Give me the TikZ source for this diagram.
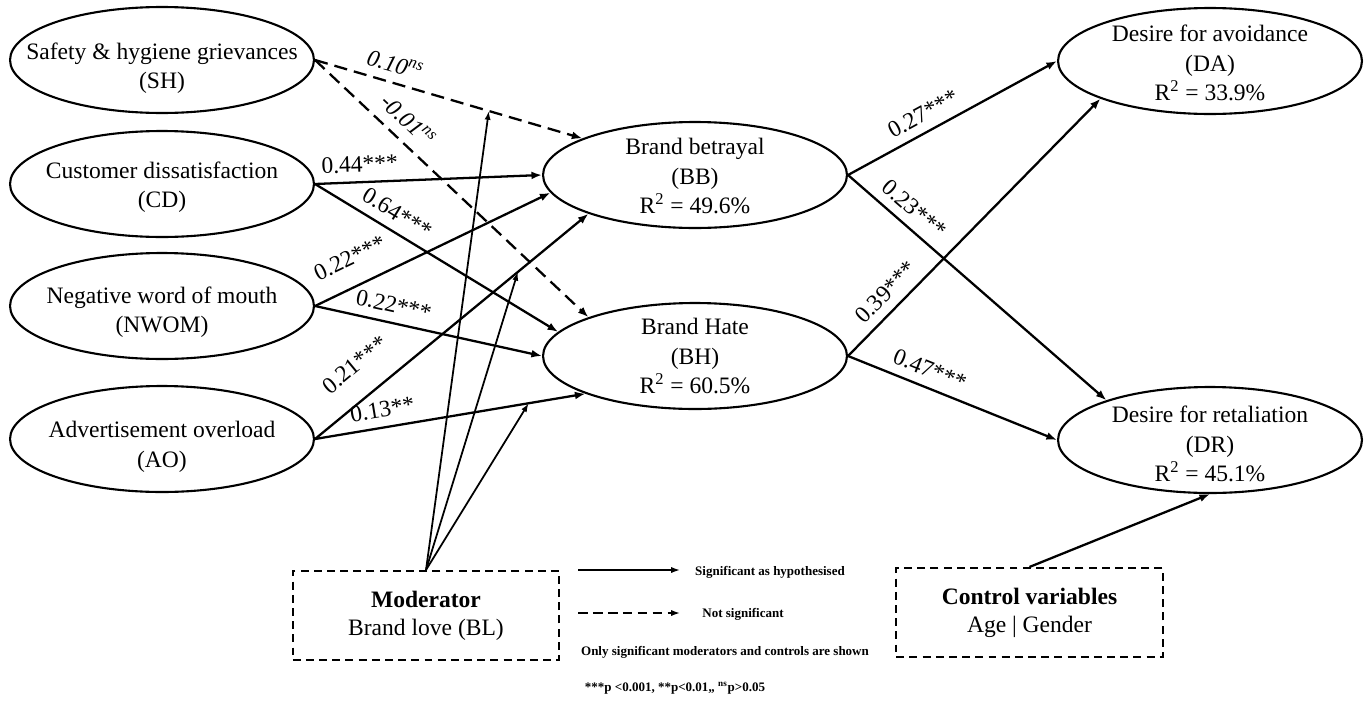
\documentclass[tikz,border=0pt]{standalone}
\usepackage{fontspec}
\setmainfont{Liberation Serif}
\usetikzlibrary{shapes.geometric,arrows.meta}
\begin{document}
\begin{tikzpicture}[x=0.02cm,y=-0.02cm,
  ell/.style={ellipse, draw, line width=1.2pt, minimum width=6.08cm, minimum height=2.12cm, inner sep=0pt},
  etxt/.style={align=center, inner sep=0pt, font=\fontsize{13.4}{16.8}\selectfont},
  dbox/.style={draw, dash pattern=on 4.5pt off 3pt, line width=1.2pt, align=center, inner sep=0pt,
    minimum width=5.33cm, minimum height=1.78cm, font=\fontsize{13.4}{16}\selectfont},
  arr/.style={line width=1.3pt, -{Latex[length=6pt,width=4.5pt]}},
  nsarr/.style={arr, dash pattern=on 7.5pt off 4pt},
  modarr/.style={line width=1pt, -{Latex[length=5pt,width=3.5pt]}},
  lbl/.style={sloped, above=4pt, inner sep=1pt, font=\fontsize{13.4}{16}\selectfont},
  leg/.style={font=\fontsize{7.4}{9}\selectfont\bfseries, inner sep=0pt},
  legarr/.style={line width=0.9pt, -{Latex[length=5pt,width=3.5pt]}}
]
\useasboundingbox (0,0) rectangle (1365,700);

% exogenous constructs
\node[ell] (SH) at (162,60) {};
\node[etxt] (SHt) at (162,68) {Safety \& hygiene grievances\\(SH)};
\node[ell] (CD) at (162,184) {};
\node[etxt] (CDt) at (162,187) {Customer dissatisfaction\\(CD)};
\node[ell] (NWOM) at (162,306) {};
\node[etxt] (NWOMt) at (162,312) {Negative word of mouth\\(NWOM)};
\node[ell] (AO) at (162,439) {};
\node[etxt] (AOt) at (162,447) {Advertisement overload\\(AO)};

% mediators
\node[ell] (BB) at (695,175) {};
\node[etxt] (BBt) at (695,176) {Brand betrayal\\(BB)\\R\textsuperscript{2} = 49.6\%};
\node[ell] (BH) at (695,356) {};
\node[etxt] (BHt) at (695,356) {Brand Hate\\(BH)\\R\textsuperscript{2} = 60.5\%};

% outcomes
\node[ell] (DA) at (1210,61) {};
\node[etxt] (DAt) at (1210,63) {Desire for avoidance\\(DA)\\R\textsuperscript{2} = 33.9\%};
\node[ell] (DR) at (1210,440) {};
\node[etxt] (DRt) at (1210,444) {Desire for retaliation\\(DR)\\R\textsuperscript{2} = 45.1\%};

% moderator and controls
\node[dbox] (BL) at (426,615.5) {\textbf{Moderator}\\Brand love (BL)};
\node[dbox] (CV) at (1029.5,612.5) {\textbf{Control variables}\\Age | Gender};

% paths to BB / BH
\draw[nsarr] (SH.east) -- node[lbl, pos=0.28] {\itshape 0.10\textsuperscript{ns}} (BB.162.35);
\draw[nsarr] (SH.east) -- node[lbl, pos=0.29, above=1pt] {\itshape -0.01\textsuperscript{ns}} (BH.160.9);
\draw[arr] (CD.east) -- node[lbl, pos=0.2] {0.44***} (BB.west);
\draw[arr] (CD.east) -- node[lbl, pos=0.30] {0.64***} (BH.170.5);
\draw[arr] (NWOM.east) -- node[lbl, pos=0.20, above=6pt] {0.22***} (BB.-173.2);
\draw[arr] (NWOM.east) -- node[lbl, pos=0.33] {0.22***} (BH.west);
\draw[arr] (AO.east) -- node[lbl, pos=0.22, above=8pt] {0.21***} (BB.200.3);
\draw[arr] (AO.east) -- node[lbl, pos=0.26] {0.13**} (BH.199.9);

% paths to outcomes
\draw[arr] (BB.east) -- node[lbl, pos=0.40] {0.27***} (DA.west);
\draw[arr] (BB.east) -- node[lbl, pos=0.21] {0.23***} (DR.159.7);
\draw[arr] (BH.east) -- node[lbl, pos=0.20] {0.39***} (DA.199.9);
\draw[arr] (BH.east) -- node[lbl, pos=0.36] {0.47***} (DR.west);

% moderation targets on paths
\path (SH.east) -- (BB.162.35) coordinate[pos=0.65] (m1);
\path (AO.east) -- (BB.200.3) coordinate[pos=0.742] (m2);
\path (AO.east) -- (BH.199.9) coordinate[pos=0.79] (m3);
\draw[modarr] (BL.north) -- (m1);
\draw[modarr] (BL.north) -- (m2);
\draw[modarr] (BL.north) -- (m3);

% control
\draw[arr] (CV.north) -- (DR.south);

% legend
\coordinate (s1) at (578,570);
\coordinate (s2) at (680,570);
\draw[legarr] (s1) -- (s2);
\node[leg] (sigt) at (770,572) {Significant as hypothesised};
\coordinate (n1) at (578,613);
\coordinate (n2) at (680,613);
\draw[legarr, dash pattern=on 5.5pt off 3pt] (n1) -- (n2);
\node[leg] (nst) at (743,614) {Not significant};
\node[leg] (onlyt) at (725,652) {Only significant moderators and controls are shown};
\node[leg] (pt) at (675,688) {***p <0.001, **p<0.01,, \textsuperscript{ns}p>0.05};
\end{tikzpicture}
\end{document}
